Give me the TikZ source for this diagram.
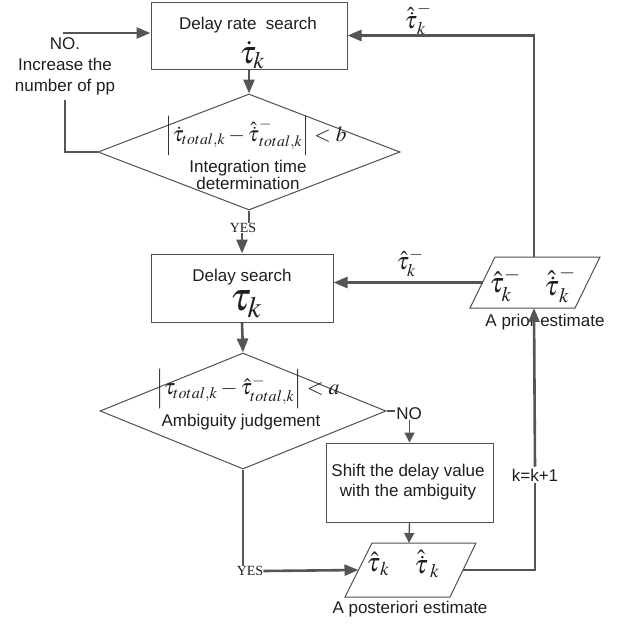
\documentclass[tikz,border=0pt]{standalone}
\usepackage{mathptmx}
\usepackage{graphicx}
\usepackage{fontspec}
\setmainfont{Liberation Sans}
\newfontfamily\seriffont{Liberation Serif}
\usetikzlibrary{shapes.geometric,arrows.meta}
\definecolor{linec}{RGB}{85,85,85}
\definecolor{boxc}{RGB}{80,80,80}
\definecolor{txt}{RGB}{30,30,30}
\begin{document}
\begin{tikzpicture}[x=1pt,y=-1pt,
  font=\fontsize{17}{21}\selectfont, text=txt,
  box/.style={draw=boxc, line width=1pt, inner sep=0pt},
  dia/.style={diamond, draw=boxc, line width=1pt, inner sep=0pt, aspect=2.6},
  parapath/.style={draw=boxc, line width=1pt, line join=miter},
  conn/.style={draw=linec, line width=2.6pt},
  arr/.style={conn, -{Triangle[length=14pt,width=11pt]}},
  thinarr/.style={draw=linec, line width=1.4pt, -{Triangle[length=10pt,width=10pt]}},
  lbl/.style={inner sep=0pt},
  yeslbl/.style={inner sep=0pt, font=\seriffont\fontsize{14}{14}\selectfont}
]
\useasboundingbox (0,0) rectangle (627,624);

% boxes
\node[box, minimum width=196pt, minimum height=67pt] (b1) at (249,35.5) {};
\node[lbl] (b1t) at (248,25) {Delay rate\ \ search};
\node[lbl] (b1m) at (252,55) {\fontsize{32}{32}\selectfont$\dot{\tau}_k$};

\node[dia, minimum width=302pt, minimum height=116pt] (d1) at (249,152) {};
\node[lbl] (d1f) at (256,136) {\resizebox{181pt}{!}{$\left|\dot{\tau}_{total,k}-\hat{\dot{\tau}}^{-}_{total,k}\right|<b$}};
\node[lbl, align=center, font=\fontsize{17}{17}\selectfont] (d1t) at (248,175) {Integration time\\determination};

\node[box, minimum width=182pt, minimum height=68pt] (b2) at (242,288) {};
\node[lbl] (b2t) at (242,277) {Delay search};
\node[lbl] (b2m) at (246,304) {\fontsize{40}{40}\selectfont$\tau_k$};

\node[dia, minimum width=286pt, minimum height=116pt] (d2) at (243,411) {};
\node[lbl] (d2f) at (248,389) {\resizebox{183pt}{!}{$\left|\tau_{total,k}-\hat{\tau}^{-}_{total,k}\right|<a$}};
\node[lbl] (d2t) at (241,422) {Ambiguity judgement};

\node[box, minimum width=167pt, minimum height=79pt] (sh) at (409.5,482.5) {};
\node[lbl, align=center, font=\fontsize{17}{20}\selectfont] (sht) at (408,482) {Shift the delay value\\with the ambiguity};

% parallelograms (drawn directly)
\draw[parapath] (470,308) -- (495,257) -- (600,257) -- (575,308) -- cycle;
\coordinate (prL) at (482.5,282.5);
\coordinate (prT) at (534,257);
\coordinate (prB) at (534,308);
\node[lbl] (pr1) at (505,285) {\fontsize{28}{28}\selectfont$\hat{\tau}^{-}_{k}$};
\node[lbl] (pr2) at (560,285) {\fontsize{28}{28}\selectfont$\hat{\dot{\tau}}^{-}_{k}$};
\node[lbl] (prl) at (545,322) {A prior estimate};

\draw[parapath] (345,597) -- (372,543) -- (476,543) -- (450,597) -- cycle;
\coordinate (poL) at (358.5,570);
\coordinate (poR) at (463,570);
\coordinate (poT) at (409,543);
\node[lbl] (po1) at (378,564) {\fontsize{26}{26}\selectfont$\hat{\tau}_{\,k}$};
\node[lbl] (po2) at (427,564) {\fontsize{26}{26}\selectfont$\hat{\dot{\tau}}_{\,k}$};
\node[lbl] (pol) at (410,609) {A posteriori estimate};

% labels
\node[lbl, align=center, font=\fontsize{17}{21}\selectfont] (inc) at (65,66) {NO.\\Increase the\\number of pp};
\node[yeslbl] (yes1) at (243,228) {YES};
\node[yeslbl] (yes2) at (250,571) {YES};
\node[lbl] (no2) at (409,414) {NO};
\node[lbl, fill=white, inner sep=2pt] (kk) at (535,475) {k=k+1};
\node[lbl] (lt1) at (418,19) {\fontsize{24}{24}\selectfont$\hat{\dot{\tau}}^{-}_{k}$};
\node[lbl] (lt2) at (410,263) {\fontsize{24}{24}\selectfont$\hat{\tau}^{-}_{k}$};

\coordinate (noin) at (63,33);
\coordinate (loopend) at (65,100);
\coordinate (d2out) at (395,411);

% connectors
\draw[arr] (noin) -- (noin -| b1.west);
\draw[conn] (d1.west) -| (loopend);
\draw[arr] (b1.south) -- (d1.north);
\draw[conn] (d1.south) -- (d1.south |- yes1.north);
\draw[arr] (b2.north |- yes1.south) -- (b2.north);
\draw[arr] (b2.south) -- (d2.north);
\draw[draw=linec, line width=1.4pt] (d2.east) -- (d2out);
\draw[thinarr] (sh.north |- no2.south) -- (sh.north);
\draw[thinarr] (sh.south) -- (poT);
\draw[conn] (d2.south) -- (d2.south |- yes2.north);
\draw[arr] (yes2.east) -- (poL);
\draw[conn] (poR) -| (kk.south);
\draw[arr] (kk.north) -- (prB);
\draw[arr] (prL) -- (prL -| b2.east);
\draw[arr] (prT) |- (b1.east);
\end{tikzpicture}
\end{document}
